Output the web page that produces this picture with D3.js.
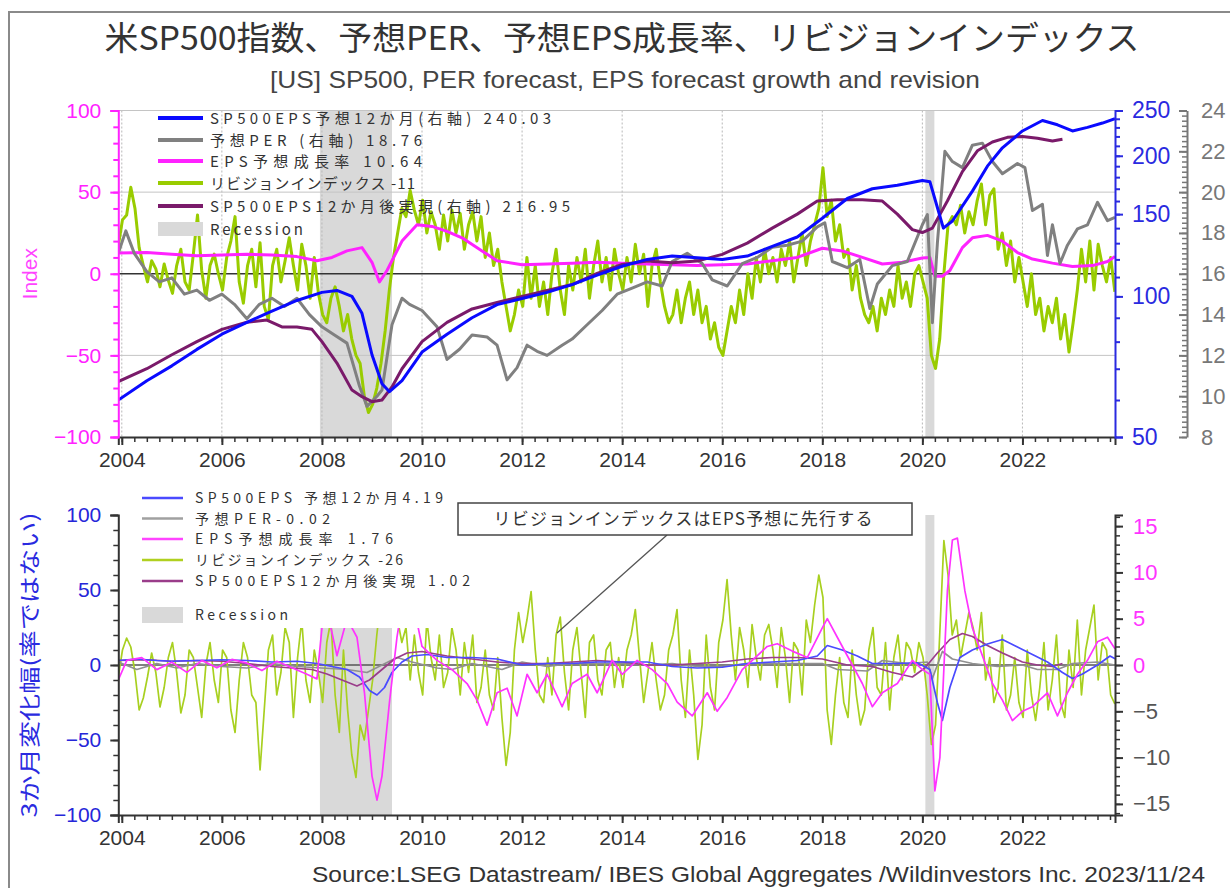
<!DOCTYPE html>
<html><head><meta charset="utf-8">
<script src="https://cdn.jsdelivr.net/npm/d3@7"></script>
<style>
body{margin:0;background:#fff;}
svg{display:block;}
</style></head><body>
<svg id="c" width="1230" height="888"></svg>
<script>
// ---------------- data ----------------
const yearTicks = [2004, 2006, 2008, 2010, 2012, 2014, 2016, 2018, 2020, 2022];
const recessions = [[2007.96, 2009.40], [2020.06, 2020.24]];

// Upper panel: S&P500 12m forward EPS (right blue log axis), [year, value]
const epsForward = [
  [2003.93, 60], [2004.5, 66], [2005.0, 71], [2005.5, 77], [2006.0, 83], [2006.5, 88],
  [2007.0, 93], [2007.5, 98], [2008.0, 102], [2008.3, 103], [2008.6, 100], [2008.8, 92],
  [2009.0, 75], [2009.2, 65], [2009.35, 62.5], [2009.6, 66], [2010.0, 76], [2010.5, 83],
  [2011.0, 90], [2011.5, 96], [2012.0, 99], [2012.5, 102], [2013.0, 106], [2013.5, 111],
  [2014.0, 116], [2014.5, 120], [2015.0, 122], [2015.5, 121], [2016.0, 120], [2016.5, 122],
  [2017.0, 128], [2017.5, 134], [2018.0, 147], [2018.5, 162], [2019.0, 170], [2019.5, 173],
  [2020.0, 177], [2020.15, 176], [2020.3, 155], [2020.42, 140], [2020.6, 145], [2021.0, 168],
  [2021.3, 190], [2021.6, 208], [2022.0, 226], [2022.4, 238], [2022.7, 233], [2023.0, 226],
  [2023.3, 230], [2023.6, 235], [2023.85, 240.03]
];
// Forward PER (right gray axis)
const perForward = [
  [2003.93, 17.0], [2004.08, 18.1], [2004.25, 17.0], [2004.5, 16.1], [2004.75, 15.6], [2005.0, 15.8],
  [2005.25, 15.0], [2005.5, 15.2], [2005.75, 14.7], [2006.0, 15.0], [2006.25, 14.5], [2006.5, 13.8],
  [2006.75, 14.5], [2007.0, 14.8], [2007.25, 14.4], [2007.5, 14.8], [2007.75, 14.0], [2008.0, 13.4],
  [2008.25, 13.0], [2008.5, 12.6], [2008.75, 10.5], [2008.9, 9.5], [2009.1, 10.0], [2009.2, 10.3],
  [2009.4, 13.5], [2009.6, 14.8], [2009.75, 14.5], [2010.0, 14.2], [2010.3, 13.4], [2010.5, 11.8],
  [2010.75, 12.3], [2011.0, 13.0], [2011.3, 12.9], [2011.5, 12.5], [2011.7, 10.8], [2011.9, 11.4],
  [2012.1, 12.5], [2012.3, 12.2], [2012.5, 12.0], [2012.8, 12.5], [2013.0, 12.8], [2013.3, 13.5],
  [2013.6, 14.2], [2013.9, 15.0], [2014.2, 15.3], [2014.5, 15.6], [2014.8, 15.4], [2015.0, 16.6],
  [2015.3, 17.0], [2015.6, 16.5], [2015.8, 15.7], [2016.1, 15.4], [2016.4, 16.5], [2016.7, 16.8],
  [2017.0, 17.3], [2017.3, 17.4], [2017.6, 17.6], [2017.9, 18.3], [2018.05, 18.5], [2018.2, 16.6],
  [2018.5, 16.3], [2018.75, 16.7], [2018.95, 14.3], [2019.1, 15.5], [2019.4, 16.4], [2019.7, 16.6],
  [2020.0, 18.4], [2020.1, 18.9], [2020.2, 13.6], [2020.3, 17.5], [2020.45, 22.0], [2020.6, 21.5],
  [2020.8, 21.2], [2021.0, 22.3], [2021.2, 22.4], [2021.4, 21.5], [2021.6, 20.9], [2021.9, 21.4],
  [2022.05, 21.2], [2022.2, 19.1], [2022.4, 19.4], [2022.5, 16.9], [2022.6, 18.4], [2022.75, 16.5],
  [2022.9, 17.4], [2023.1, 18.2], [2023.3, 18.4], [2023.5, 19.5], [2023.7, 18.6], [2023.85, 18.76]
];
// EPS forecast growth rate (left index axis)
const epsGrowth = [
  [2003.93, 12.7], [2004.5, 13], [2005.0, 12], [2005.5, 11], [2006.0, 11.5], [2006.5, 12],
  [2007.0, 11.5], [2007.5, 10.5], [2007.9, 8], [2008.2, 10], [2008.5, 14], [2008.8, 16],
  [2009.0, 7], [2009.15, -5], [2009.3, 2], [2009.6, 20], [2009.9, 30], [2010.2, 29],
  [2010.5, 26], [2010.8, 22], [2011.2, 14], [2011.5, 8], [2012.0, 5.5], [2012.5, 6],
  [2013.0, 6.5], [2013.5, 7], [2014.0, 6.5], [2014.5, 6], [2015.0, 5.5], [2015.5, 5],
  [2016.0, 5.5], [2016.5, 6], [2017.0, 8], [2017.5, 10], [2018.0, 15.6], [2018.4, 14],
  [2018.8, 10], [2019.2, 6], [2019.6, 7], [2020.0, 9.6], [2020.15, 10], [2020.25, -1.5],
  [2020.4, -1.5], [2020.55, 2], [2020.8, 16], [2021.0, 22], [2021.3, 23.5], [2021.6, 20],
  [2021.9, 13], [2022.2, 9], [2022.6, 6.5], [2023.0, 4.5], [2023.4, 5], [2023.7, 7.5],
  [2023.85, 10.64]
];
// Realised EPS 12 months ahead (right blue log axis)
const epsRealised = [
  [2003.93, 65.7], [2004.5, 70], [2005.0, 75], [2005.5, 80], [2006.0, 85], [2006.5, 88],
  [2006.9, 89], [2007.2, 86], [2007.5, 86], [2007.8, 85], [2008.0, 80], [2008.3, 72],
  [2008.6, 63], [2008.8, 61], [2009.0, 59.5], [2009.2, 60], [2009.4, 64], [2009.6, 70],
  [2010.0, 80], [2010.5, 88], [2011.0, 94], [2011.5, 97], [2012.0, 100], [2012.5, 103],
  [2013.0, 106], [2013.5, 112], [2014.0, 117], [2014.5, 119], [2015.0, 118], [2015.5, 119],
  [2016.0, 123], [2016.5, 130], [2017.0, 140], [2017.5, 150], [2017.9, 160], [2018.3, 161],
  [2018.8, 161], [2019.2, 160], [2019.5, 150], [2019.8, 139], [2020.0, 137], [2020.2, 140],
  [2020.5, 160], [2020.8, 185], [2021.1, 205], [2021.4, 214], [2021.7, 219], [2022.0, 220],
  [2022.3, 218], [2022.6, 215], [2022.8, 216.95]
];
// Revision index, monthly from Dec 2003
const monthlyStart = 2003.93;
const revisionIndex = [
  17,
  33, 36, 53, 40, 16, 5, -5, 8, 3, -8, 6, -4,
  -12, 5, 15, -5, -10, 12, 36, 2, -15, 5, 12, 0,
  -10, 10, 20, 35, -5, -18, 5, 15, -8, 19, -20, -28,
  5, 15, -5, 8, 22, 5, -10, 18, 5, -15, 10, -12,
  -25, -30, -15, -8, -20, -35, -25, -40, -50, -55, -75, -85,
  -80, -70, -55, -35, -10, 10, 25, 40, 35, 51, 39, 30,
  45, 25, 38, 30, 15, 36, 20, 39, 25, 37, 15, 30,
  38, 20, 35, 10, 25, 5, 15, -5, -20, -35, -25, -10,
  -20, 10, -15, 5, -20, -5, -25, 0, 15, -10, -25, 5,
  -10, 10, -5, 15, -15, 5, 20, -5, 10, -10, 15, 0,
  -10, 10, -5, 18, 0, 12, -20, 5, 15, -5, -20, -30,
  -25, -10, -30, -15, -5, -25, -10, -30, -20, -40, -30, -45,
  -50, -35, -20, -30, -10, -25, 0, -15, 10, -5, 15, 0,
  10, -5, 15, 5, 20, -5, 10, 25, 5, 20, 30, 40,
  65, 35, 45, 20, 30, 10, 15, -10, 5, -15, -25, -30,
  -20, -35, -15, -25, -10, -20, 5, -15, -5, -20, 0, 5,
  -5, -15, -50, -58, -40, 0, 30, 35, 30, 42, 25, 38,
  30, 45, 55, 30, 48, 52, 15, 25, 5, 20, -5, 10,
  -5, -20, 0, -25, -15, -35, -20, -30, -15, -40, -25, -48,
  -30, -10, 15, -5, 20, -10, 18, 5, -5, 10, -11
];

// Lower panel: 3-month changes
const chgEpsForward = [
  [2003.93, 3], [2004.3, 4], [2004.7, 3], [2005.0, 2.5], [2005.5, 3], [2006.0, 3.5], [2006.5, 3],
  [2007.0, 2], [2007.5, 2.5], [2007.9, 1], [2008.2, -1], [2008.5, -3], [2008.75, -8], [2008.95, -17],
  [2009.1, -20], [2009.25, -15], [2009.4, -5], [2009.6, 2], [2009.8, 6], [2010.1, 7], [2010.5, 5],
  [2011.0, 5], [2011.5, 4], [2012.0, 0], [2012.5, 1], [2013.0, 1], [2013.5, 2], [2014.0, 2],
  [2014.5, 2], [2015.0, -1], [2015.5, -2], [2016.0, -1.5], [2016.5, 1], [2017.0, 2], [2017.5, 3],
  [2017.9, 6], [2018.1, 13], [2018.4, 10], [2018.7, 6], [2019.0, 1], [2019.5, 1], [2019.9, 1.5],
  [2020.15, -3], [2020.3, -25], [2020.4, -37], [2020.55, -15], [2020.75, 5], [2021.0, 10],
  [2021.3, 14], [2021.6, 17], [2021.9, 12], [2022.2, 7], [2022.5, 2], [2022.8, -5], [2023.0, -9],
  [2023.2, -6], [2023.5, 0], [2023.75, 6], [2023.85, 4.19]
];
const chgPer = [
  [2003.93, 2], [2004.3, -3], [2004.7, 1], [2005.1, -2], [2005.5, 1], [2006.0, -1], [2006.5, -2],
  [2007.0, 1], [2007.5, -1], [2008.0, -2], [2008.5, -3], [2008.9, -5], [2009.2, 0], [2009.5, 5],
  [2009.8, 2], [2010.3, -2], [2010.6, -3], [2011.0, 1], [2011.6, -3], [2012.0, 2], [2012.5, -1],
  [2013.0, 1], [2013.5, 1], [2014.0, 1], [2014.5, 0], [2015.0, 1], [2015.5, -1], [2016.0, -1],
  [2016.5, 1], [2017.0, 1], [2017.5, 1], [2018.0, 1], [2018.3, -3], [2018.9, -4], [2019.2, 3],
  [2019.7, 1], [2020.1, 2], [2020.2, -9], [2020.4, 9], [2020.6, 4], [2021.0, 1], [2021.5, -1],
  [2022.0, 0], [2022.3, -3], [2022.7, -3], [2023.0, 1], [2023.5, 2], [2023.85, -0.02]
];
// EPS growth change, right axis
const chgEpsGrowth = [
  [2003.93, -1.6], [2004.1, 0.5], [2004.4, 0.8], [2004.7, -0.5], [2005.0, 0.3], [2005.3, -0.8],
  [2005.6, 0.5], [2005.9, -0.3], [2006.2, 0.6], [2006.5, 0.2], [2006.8, -0.6], [2007.1, 0.4],
  [2007.4, -0.3], [2007.7, -1], [2007.9, -1.5], [2008.0, 4], [2008.1, 6], [2008.3, 1], [2008.5, 5],
  [2008.7, 3], [2008.85, -3], [2009.0, -12], [2009.1, -14.6], [2009.2, -12], [2009.35, -4],
  [2009.5, 3], [2009.65, 8], [2009.85, 6], [2010.0, 2], [2010.3, 0.5], [2010.6, -0.5], [2010.9, -2],
  [2011.1, -3.8], [2011.3, -6.5], [2011.5, -3], [2011.7, -2.5], [2011.9, -5.5], [2012.1, -1],
  [2012.3, -3], [2012.5, -1], [2012.8, -4.5], [2013.0, -2], [2013.3, -1], [2013.5, -3], [2013.8, 0.5],
  [2014.0, -1], [2014.3, 0.5], [2014.6, -0.5], [2014.9, -2], [2015.1, -4], [2015.4, -5.5],
  [2015.7, -3], [2015.9, -5], [2016.1, -3.5], [2016.4, -0.5], [2016.6, 0.5], [2016.9, 2],
  [2017.1, 2.3], [2017.4, 1.5], [2017.7, 0.8], [2018.0, 4], [2018.1, 5], [2018.3, 3], [2018.5, 1],
  [2018.8, -2], [2019.0, -4.5], [2019.2, -3], [2019.5, -2], [2019.8, 0.5], [2020.0, -0.5],
  [2020.15, -1], [2020.25, -13.6], [2020.35, -10], [2020.5, 8], [2020.6, 13.5], [2020.7, 13.7],
  [2020.85, 8], [2021.0, 4], [2021.2, 1], [2021.4, -2], [2021.6, -3.8], [2021.8, -6], [2022.0, -5],
  [2022.2, -4.5], [2022.5, -3], [2022.7, -5.5], [2022.9, -3], [2023.1, -1], [2023.3, 0.5],
  [2023.5, 2.5], [2023.7, 3], [2023.85, 1.76]
];
const chgEpsRealised = [
  [2003.93, 3], [2004.5, 3.5], [2005.0, 2.5], [2005.5, 3], [2006.0, 2.5], [2006.5, 1], [2007.0, -1],
  [2007.4, -2], [2007.8, -3], [2008.1, -6], [2008.4, -10], [2008.7, -14], [2008.95, -10],
  [2009.2, -3], [2009.45, 4], [2009.7, 8], [2010.0, 9], [2010.5, 6], [2011.0, 4], [2011.5, 2],
  [2012.0, 1], [2012.5, 1], [2013.0, 2], [2013.5, 3], [2014.0, 2], [2014.5, 0], [2015.0, 0],
  [2015.5, 1], [2016.0, 2], [2016.5, 4], [2017.0, 5], [2017.5, 5], [2018.0, 4], [2018.5, 0],
  [2019.0, -1], [2019.4, -5], [2019.8, -8], [2020.05, -2], [2020.3, 8], [2020.55, 17], [2020.8, 21],
  [2021.0, 19], [2021.3, 13], [2021.6, 8], [2022.0, 2], [2022.3, 0], [2022.6, -1], [2022.8, 1.02]
];
// Revision index 3-month change, monthly from Dec 2003
const chgRevision = [
  -8,
  10, 18, 12, -5, -30, -22, -8, 8, -5, -28, -15, 5,
  15, -5, -32, -20, 10, 5, -15, -35, 0, 15, -10, -25,
  10, 5, -30, -45, -10, 15, 5, -20, -25, -70, -30, 10,
  20, -20, -5, 25, 15, -35, 5, 30, -10, -25, 10, -5,
  -25, 15, 30, -20, -45, 10, -30, -60, -75, -40, -50, -30,
  -10, 20, 45, 70, 60, 40, 30, 15, 25, -10, 20, -5,
  -20, 30, 5, -10, 20, -15, -5, 25, 10, -20, 15, -5,
  20, -25, -15, 10, -20, -30, 5, -35, -67, -45, 10, 35,
  15, 30, 49, 10, -20, -25, 5, -20, 20, 32, -5, -30,
  10, 25, -5, -35, 15, 20, -10, -20, 10, 15, -15, 5,
  -15, 10, 20, 37, 5, -25, -5, 15, -10, -30, -20, 10,
  20, 37, -10, -35, 10, -20, -63, -40, 20, -15, -30, 15,
  30, 57, 20, -10, 25, 10, -15, 27, 5, -10, 20, 27,
  10, -15, 25, 5, -25, 15, 10, -20, 30, 15, 40, 60,
  45, -30, -53, -20, 5, -25, -35, 10, -20, -40, -30, 10,
  25, -15, -20, 15, -30, 5, 20, -10, 15, 10, -5, 15,
  5, -20, -53, -40, 20, 83, 60, 20, 30, 5, 20, 35,
  25, 10, 35, -10, 5, -25, -15, 20, -30, -20, 5, -25,
  -35, 10, -20, -37, -15, 15, -30, -10, 20, -25, -35, 10,
  -15, 30, -20, 10, 25, 40, -10, 15, 10, -20, -26
];

const topLegend = [
  {label: "SP500EPS予想12か月(右軸) 240.03", color: "#0a0aff", w: 341},
  {label: "予想PER (右軸) 18.76", color: "#808080", w: 212},
  {label: "EPS予想成長率 10.64", color: "#ff22ff", w: 212},
  {label: "リビジョンインデックス -11", color: "#99cc00", w: 205},
  {label: "SP500EPS12か月後実現(右軸) 216.95", color: "#7a1a6a", w: 360},
  {label: "Recession", color: null, w: 93}
];
const bottomLegend = [
  {label: "SP500EPS 予想12か月4.19", color: "#4a4aff", w: 248},
  {label: "予想PER-0.02", color: "#a0a0a0", w: 135},
  {label: "EPS予想成長率 1.76", color: "#ff44ff", w: 198},
  {label: "リビジョンインデックス -26", color: "#b0d020", w: 208},
  {label: "SP500EPS12か月後実現 1.02", color: "#9a3d8a", w: 275},
  {label: "Recession", color: null, w: 93}
];

// ---------------- drawing ----------------
const svg = d3.select("#c");
const LAT = "'Liberation Sans', Arial, sans-serif";
const JP = "'Noto Sans CJK JP', 'Noto Sans', sans-serif";

const X0 = 118.3, X1 = 1115;
const x = d3.scaleLinear().domain([2003.93, 2023.85]).range([X0, X1]);
const T = {top: 110.5, bot: 437};
const B = {top: 515, bot: 815};

const yIdx = d3.scaleLinear().domain([-100, 100]).range([T.bot, T.top]);
const yEps = d3.scaleLog().domain([50, 250]).range([T.bot, T.top]);
const yPer = d3.scaleLinear().domain([8, 24]).range([T.bot, T.top]);
const yChg = d3.scaleLinear().domain([-100, 100]).range([B.bot, B.top]);
const yChgR = d3.scaleLinear().domain([-16.2, 16.2]).range([B.bot, B.top]);

const defs = svg.append("defs");
defs.append("clipPath").attr("id", "clipT").append("rect")
  .attr("x", X0).attr("y", T.top).attr("width", X1 - X0).attr("height", T.bot - T.top);
defs.append("clipPath").attr("id", "clipB").append("rect")
  .attr("x", X0).attr("y", B.top).attr("width", X1 - X0).attr("height", B.bot - B.top);

// outer frame
svg.append("path").attr("d", "M9,888 V12 H1230").attr("fill", "none")
  .attr("stroke", "#8a8a8a").attr("stroke-width", 2);

// titles
svg.append("text").attr("x", 622).attr("y", 50).attr("text-anchor", "middle")
  .attr("font-family", JP).attr("font-size", 33).attr("fill", "#333")
  .attr("textLength", 1035).attr("lengthAdjust", "spacingAndGlyphs")
  .text("米SP500指数、予想PER、予想EPS成長率、リビジョンインデックス");
svg.append("text").attr("x", 625).attr("y", 88).attr("text-anchor", "middle")
  .attr("font-family", LAT).attr("font-size", 24).attr("fill", "#444")
  .attr("textLength", 710).attr("lengthAdjust", "spacingAndGlyphs")
  .text("[US] SP500, PER forecast, EPS forecast growth and revision");
svg.append("text").attr("x", 1205).attr("y", 882).attr("text-anchor", "end")
  .attr("font-family", LAT).attr("font-size", 22).attr("fill", "#333")
  .attr("textLength", 893).attr("lengthAdjust", "spacingAndGlyphs")
  .text("Source:LSEG Datastream/ IBES Global Aggregates /Wildinvestors Inc. 2023/11/24");

function recessionRects(g, top, bot) {
  g.selectAll("rect.rec").data(recessions).enter().append("rect")
    .attr("x", d => x(d[0])).attr("width", d => x(d[1]) - x(d[0]))
    .attr("y", top).attr("height", bot - top).attr("fill", "#d9d9d9");
}
const lineOf = (ys) => d3.line().x(d => x(d[0])).y(d => ys(d[1]));
const monthly = (vals) => vals.map((v, i) => [monthlyStart + i / 12, v]);

// ---------- upper panel ----------
const gT = svg.append("g");
recessionRects(gT, T.top, T.bot);
gT.selectAll("line.vg").data(yearTicks).enter().append("line")
  .attr("x1", d => x(d)).attr("x2", d => x(d)).attr("y1", T.top).attr("y2", T.bot)
  .attr("stroke", "#b8b8b8").attr("stroke-width", 1).attr("stroke-dasharray", "2,2");
gT.selectAll("line.hg").data([100, 50, -50]).enter().append("line")
  .attr("x1", X0).attr("x2", X1).attr("y1", d => yIdx(d)).attr("y2", d => yIdx(d))
  .attr("stroke", "#c4c4c4").attr("stroke-width", 1);
gT.append("line").attr("x1", X0).attr("x2", X1).attr("y1", yIdx(0)).attr("y2", yIdx(0))
  .attr("stroke", "#333").attr("stroke-width", 1.3);

const linesT = gT.append("g").attr("clip-path", "url(#clipT)").attr("fill", "none")
  .attr("stroke-linejoin", "round").attr("stroke-width", 3);
linesT.append("path").datum(monthly(revisionIndex)).attr("d", lineOf(yIdx)).attr("stroke", "#99cc00");
linesT.append("path").datum(epsGrowth).attr("d", lineOf(yIdx)).attr("stroke", "#ff22ff");
linesT.append("path").datum(perForward).attr("d", lineOf(yPer)).attr("stroke", "#808080");
linesT.append("path").datum(epsRealised).attr("d", lineOf(yEps)).attr("stroke", "#7a1a6a");
linesT.append("path").datum(epsForward).attr("d", lineOf(yEps)).attr("stroke", "#0a0aff");

// axes helpers
function styleAxis(g, color, labelColor, size) {
  g.select(".domain").attr("stroke", color).attr("stroke-width", 2);
  g.selectAll(".tick line").attr("stroke", color).attr("stroke-width", 2);
  g.selectAll(".tick text").attr("fill", labelColor || color)
    .attr("font-family", LAT).attr("font-size", size || 21);
}
function minor(g, axis) {
  const m = g.append("g").call(axis);
  m.select(".domain").remove();
  return m;
}
const quarterTicks = d3.range(2004, 2023.8, 0.25);

// x axis upper
const xAxT = svg.append("g").attr("transform", `translate(0,${T.bot})`);
xAxT.call(d3.axisBottom(x).tickValues(yearTicks).tickFormat(d3.format("d")).tickSize(8).tickPadding(7));
styleAxis(xAxT, "#333", "#333");
const xmT = minor(svg.append("g").attr("transform", `translate(0,${T.bot})`),
  d3.axisBottom(x).tickValues(quarterTicks).tickFormat("").tickSize(5));
xmT.selectAll("line").attr("stroke", "#333").attr("stroke-width", 1.5);

// left index axis
const lAxT = svg.append("g").attr("transform", `translate(${X0},0)`);
lAxT.call(d3.axisLeft(yIdx).tickValues([-100, -50, 0, 50, 100]).tickSize(8).tickPadding(9));
styleAxis(lAxT, "#ff22ff");
const lmT = minor(svg.append("g").attr("transform", `translate(${X0},0)`),
  d3.axisLeft(yIdx).tickValues(d3.range(-100, 101, 10)).tickFormat("").tickSize(5));
lmT.selectAll("line").attr("stroke", "#ff22ff").attr("stroke-width", 2);
svg.append("text").attr("transform", `translate(37,${yIdx(0)}) rotate(-90)`)
  .attr("text-anchor", "middle").attr("font-family", LAT).attr("font-size", 21)
  .attr("fill", "#ff44ff").text("Index");

// right blue log axis
const rAxT = svg.append("g").attr("transform", `translate(${X1},0)`);
rAxT.call(d3.axisRight(yEps).tickValues([50, 100, 150, 200, 250]).tickFormat(d3.format("d")).tickSize(8).tickPadding(9));
styleAxis(rAxT, "#2a2ae0", "#2a2ae0", 23);
const rmT = minor(svg.append("g").attr("transform", `translate(${X1},0)`),
  d3.axisRight(yEps).tickValues(d3.range(60, 250, 10)).tickFormat("").tickSize(5));
rmT.selectAll("line").attr("stroke", "#2a2ae0").attr("stroke-width", 2);

// right gray PER axis
const gX = 1187;
const pAxT = svg.append("g").attr("transform", `translate(${gX},0)`);
pAxT.call(d3.axisRight(yPer).tickValues(d3.range(8, 25, 2)).tickSize(0).tickPadding(14));
styleAxis(pAxT, "#777", "#777", 22);
const pmT = svg.append("g").attr("transform", `translate(${gX},0)`)
  .call(d3.axisLeft(yPer).tickValues(d3.range(8, 24.01, 0.25)).tickFormat("").tickSize(5));
pmT.select(".domain").remove();
pmT.selectAll("line").attr("stroke", "#777").attr("stroke-width", 1.5);
const pMaj = svg.append("g").attr("transform", `translate(${gX},0)`)
  .call(d3.axisLeft(yPer).tickValues(d3.range(8, 25, 2)).tickFormat("").tickSize(8));
pMaj.select(".domain").remove();
pMaj.selectAll("line").attr("stroke", "#777").attr("stroke-width", 2);

// upper legend (transparent)
const legT = svg.append("g");
const rowsT = [118, 140, 161, 183, 206, 229];
topLegend.forEach((d, i) => {
  const y = rowsT[i];
  if (d.color) {
    legT.append("line").attr("x1", 158).attr("x2", 203).attr("y1", y).attr("y2", y)
      .attr("stroke", d.color).attr("stroke-width", 4);
  } else {
    legT.append("rect").attr("x", 158).attr("y", y - 7).attr("width", 45).attr("height", 14)
      .attr("fill", "#d9d9d9");
  }
  legT.append("text").attr("x", 210).attr("y", y + 5.5).attr("font-family", JP)
    .attr("font-size", 15).attr("fill", "#333")
    .attr("textLength", d.w).attr("lengthAdjust", "spacing").text(d.label);
});

// ---------- lower panel ----------
const gB = svg.append("g");
recessionRects(gB, B.top, B.bot);
gB.append("line").attr("x1", X0).attr("x2", X1).attr("y1", yChg(0)).attr("y2", yChg(0))
  .attr("stroke", "#555").attr("stroke-width", 1.5);

const linesB = gB.append("g").attr("clip-path", "url(#clipB)").attr("fill", "none")
  .attr("stroke-linejoin", "round").attr("stroke-width", 1.7);
linesB.append("path").datum(monthly(chgRevision)).attr("d", lineOf(yChg)).attr("stroke", "#a8d020");
linesB.append("path").datum(chgPer).attr("d", lineOf(yChg)).attr("stroke", "#909090");
linesB.append("path").datum(chgEpsRealised).attr("d", lineOf(yChg)).attr("stroke", "#9a3d8a");
linesB.append("path").datum(chgEpsForward).attr("d", lineOf(yChg)).attr("stroke", "#4a4aff");
linesB.append("path").datum(chgEpsGrowth).attr("d", lineOf(yChgR)).attr("stroke", "#ff33ff");

// lower legend (opaque)
const legB = svg.append("g");
legB.append("rect").attr("x", 121).attr("y", 488).attr("width", 352).attr("height", 140).attr("fill", "#fff");
const rowsB = [498, 518.5, 539, 560, 581, 615];
bottomLegend.forEach((d, i) => {
  const y = rowsB[i];
  if (d.color) {
    legB.append("line").attr("x1", 142).attr("x2", 183).attr("y1", y).attr("y2", y)
      .attr("stroke", d.color).attr("stroke-width", 2.5);
  } else {
    legB.append("rect").attr("x", 142).attr("y", y - 8).attr("width", 41).attr("height", 16)
      .attr("fill", "#d9d9d9");
  }
  legB.append("text").attr("x", 195).attr("y", y + 5).attr("font-family", JP)
    .attr("font-size", 14).attr("fill", "#333")
    .attr("textLength", d.w).attr("lengthAdjust", "spacing").text(d.label);
});

// annotation
svg.append("line").attr("x1", 667).attr("y1", 535).attr("x2", 557).attr("y2", 633)
  .attr("stroke", "#555").attr("stroke-width", 1.3);
svg.append("rect").attr("x", 458).attr("y", 503).attr("width", 454).attr("height", 32)
  .attr("fill", "#fff").attr("stroke", "#444").attr("stroke-width", 1.5);
svg.append("text").attr("x", 683).attr("y", 525).attr("text-anchor", "middle")
  .attr("font-family", JP).attr("font-size", 17).attr("fill", "#333")
  .attr("textLength", 379).attr("lengthAdjust", "spacing")
  .text("リビジョンインデックスはEPS予想に先行する");

// x axis lower
const xAxB = svg.append("g").attr("transform", `translate(0,${B.bot})`);
xAxB.call(d3.axisBottom(x).tickValues(yearTicks).tickFormat(d3.format("d")).tickSize(8).tickPadding(7));
styleAxis(xAxB, "#333", "#333");
const xmB = minor(svg.append("g").attr("transform", `translate(0,${B.bot})`),
  d3.axisBottom(x).tickValues(quarterTicks).tickFormat("").tickSize(5));
xmB.selectAll("line").attr("stroke", "#333").attr("stroke-width", 1.5);

// left change axis
const lAxB = svg.append("g").attr("transform", `translate(${X0},0)`);
lAxB.call(d3.axisLeft(yChg).tickValues([-100, -50, 0, 50, 100]).tickSize(8).tickPadding(9));
styleAxis(lAxB, "#333", "#2626d9");
const lmB = minor(svg.append("g").attr("transform", `translate(${X0},0)`),
  d3.axisLeft(yChg).tickValues(d3.range(-100, 101, 10)).tickFormat("").tickSize(5));
lmB.selectAll("line").attr("stroke", "#333").attr("stroke-width", 1.5);
svg.append("text").attr("transform", `translate(37,${yChg(0)}) rotate(-90)`)
  .attr("text-anchor", "middle").attr("font-family", JP).attr("font-size", 21)
  .attr("fill", "#2a2ae0").attr("textLength", 305).attr("lengthAdjust", "spacingAndGlyphs")
  .text("3か月変化幅(率ではない)");

// right change axis
const rAxB = svg.append("g").attr("transform", `translate(${X1},0)`);
rAxB.call(d3.axisRight(yChgR).tickValues([-15, -10, -5, 0, 5, 10, 15]).tickSize(8).tickPadding(10));
styleAxis(rAxB, "#333", "#333", 22);
rAxB.selectAll(".tick text").attr("fill", d => d >= 0 ? "#ff33ff" : "#555");
const rmB = minor(svg.append("g").attr("transform", `translate(${X1},0)`),
  d3.axisRight(yChgR).tickValues(d3.range(-16, 17, 1)).tickFormat("").tickSize(5));
rmB.selectAll("line").attr("stroke", "#333").attr("stroke-width", 1.5);
</script>
</body></html>
